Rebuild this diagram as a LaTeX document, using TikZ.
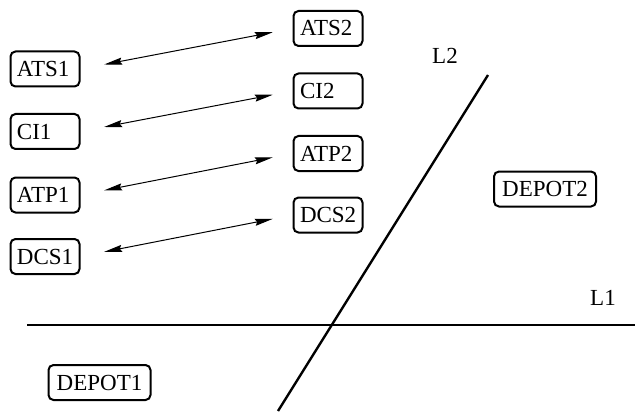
\documentclass[tikz,border=0pt]{standalone}
\usepackage{fontspec}
\setmainfont{Liberation Serif}
\newfontfamily\boxfont{Liberation Serif}
\usetikzlibrary{arrows.meta}

\begin{document}
\begin{tikzpicture}[x=0.5pt,y=-0.5pt,
  every node/.style={font=\boxfont\fontsize{11.5}{13}\selectfont},
  box/.style={draw,line width=1pt,rounded corners=2.5pt,minimum height=17.5pt,inner sep=2pt},
  unit/.style={box,text width=28pt,inner xsep=3.25pt,align=left},
  depot/.style={box,minimum width=51pt},
  link/.style={{Stealth[length=9pt,width=3.5pt,inset=1pt]}-{Stealth[length=9pt,width=3.5pt,inset=1pt]},
    line width=0.5pt,shorten <=12pt,shorten >=10pt}]
\useasboundingbox (0,0) rectangle (635,411);
% left column
\node [unit] (ats1) at (45,69) {ATS1};
\node [unit] (ci1) at (45,131.5) {CI1};
\node [unit] (atp1) at (45,195) {ATP1};
\node [unit] (dcs1) at (45,256.5) {DCS1};
% right column
\node [unit] (ats2) at (328,28.5) {ATS2};
\node [unit] (ci2) at (328,91) {CI2};
\node [unit] (atp2) at (328,153.5) {ATP2};
\node [unit] (dcs2) at (328,215) {DCS2};
\draw [link] (ats1.east) -- (ats2.west);
\draw [link] (ci1.east) -- (ci2.west);
\draw [link] (atp1.east) -- (atp2.west);
\draw [link] (dcs1.east) -- (dcs2.west);
% the two lines
\coordinate (l1a) at (27,325);
\coordinate (l1b) at (635,325);
\coordinate (l2a) at (278,411);
\coordinate (l2b) at (488,75);
\draw [line width=1.2pt] (l1a) -- (l1b);
\draw [line width=1.2pt] (l2a) -- (l2b);
\node (l1) at (603,298) {L1};
\node (l2) at (445,56) {L2};
\node [depot] (depot1) at (99.5,382.5) {DEPOT1};
\node [depot] (depot2) at (545,189) {DEPOT2};
\end{tikzpicture}
\end{document}
